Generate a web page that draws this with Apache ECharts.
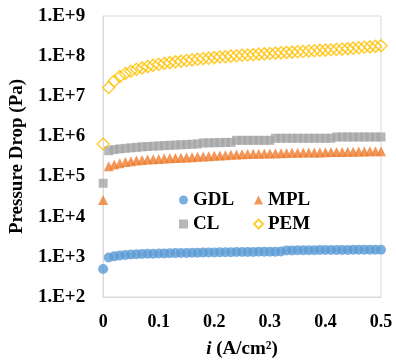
<!DOCTYPE html>
<html>
<head>
<meta charset="utf-8">
<script src="https://cdn.jsdelivr.net/npm/echarts@6/dist/echarts.min.js"></script>
<style>html,body{margin:0;padding:0;background:#fff;}#c{width:396px;height:364px;}</style>
</head>
<body>
<div id="c"></div>
<script>
var seriesNames = ['GDL', 'MPL', 'CL', 'PEM'];
var xTickLabels = ['0', '0.1', '0.2', '0.3', '0.4', '0.5'];
var yTickLabels = ['1.E+2', '1.E+3', '1.E+4', '1.E+5', '1.E+6', '1.E+7', '1.E+8', '1.E+9'];

var currentDensity = [0, 0.01, 0.02, 0.03, 0.04, 0.05, 0.06, 0.07, 0.08, 0.09, 0.10,
  0.11, 0.12, 0.13, 0.14, 0.15, 0.16, 0.17, 0.18, 0.19, 0.20,
  0.21, 0.22, 0.23, 0.24, 0.25, 0.26, 0.27, 0.28, 0.29, 0.30,
  0.31, 0.32, 0.33, 0.34, 0.35, 0.36, 0.37, 0.38, 0.39, 0.40,
  0.41, 0.42, 0.43, 0.44, 0.45, 0.46, 0.47, 0.48, 0.49, 0.50];

var gdl = [500, 960, 1030, 1080, 1110, 1140, 1160, 1180, 1190, 1200, 1210,
  1220, 1230, 1240, 1250, 1250, 1260, 1270, 1280, 1280, 1290,
  1300, 1300, 1310, 1320, 1320, 1330, 1330, 1340, 1340, 1350,
  1350, 1360, 1450, 1450, 1460, 1460, 1470, 1470, 1480, 1480,
  1480, 1490, 1490, 1490, 1500, 1500, 1500, 1510, 1510, 1510];

var mpl = [26000, 180000, 200000, 215000, 230000, 240000, 250000, 260000, 265000, 270000, 275000,
  280000, 285000, 290000, 295000, 300000, 305000, 310000, 315000, 320000, 330000,
  335000, 340000, 350000, 355000, 360000, 365000, 370000, 372000, 375000, 378000,
  380000, 383000, 386000, 390000, 392000, 395000, 398000, 400000, 400000, 405000,
  408000, 410000, 412000, 415000, 418000, 420000, 422000, 425000, 428000, 430000];

var cl = [68000, 440000, 470000, 490000, 505000, 520000, 535000, 550000, 560000, 570000, 580000,
  590000, 600000, 610000, 620000, 630000, 640000, 650000, 690000, 690000, 700000,
  700000, 710000, 710000, 800000, 800000, 800000, 800000, 800000, 800000, 800000,
  900000, 900000, 900000, 900000, 900000, 900000, 900000, 900000, 900000, 900000,
  900000, 970000, 970000, 970000, 970000, 970000, 970000, 970000, 970000, 970000];

var pem = [650000, 1.66e7, 2.4e7, 3.1e7, 3.7e7, 4.2e7, 4.7e7, 5.1e7, 5.5e7, 5.9e7, 6.3e7,
  6.6e7, 6.9e7, 7.2e7, 7.5e7, 7.8e7, 8.1e7, 8.4e7, 8.7e7, 8.9e7, 9.2e7,
  9.5e7, 9.7e7, 1.0e8, 1.02e8, 1.05e8, 1.07e8, 1.09e8, 1.12e8, 1.14e8, 1.16e8,
  1.19e8, 1.21e8, 1.24e8, 1.26e8, 1.29e8, 1.31e8, 1.34e8, 1.36e8, 1.39e8, 1.41e8,
  1.44e8, 1.47e8, 1.5e8, 1.54e8, 1.58e8, 1.62e8, 1.66e8, 1.7e8, 1.75e8, 1.82e8];

function pairs(ys) {
  return currentDensity.map(function (x, i) { return [x, ys[i]]; });
}

var FONT = "'Liberation Serif', 'Times New Roman', serif";
var chart = echarts.init(document.getElementById('c'), null, { renderer: 'canvas' });

var legendText = { fontFamily: FONT, fontWeight: 'bold', fontSize: 19, color: '#000', lineHeight: 20 };

chart.setOption({
  animation: false,
  backgroundColor: '#fff',
  grid: { left: 101, right: 15, top: 16, bottom: 64, show: true, borderColor: '#d9d9d9', borderWidth: 1, backgroundColor: 'transparent' },
  legend: [
    { data: [seriesNames[0], seriesNames[2]], orient: 'vertical', left: 179, top: 190, itemWidth: 9, itemHeight: 9, itemGap: 4, padding: 0, textStyle: legendText, selectedMode: false },
    { data: [seriesNames[1], seriesNames[3]], orient: 'vertical', left: 253, top: 190, itemWidth: 9, itemHeight: 9, itemGap: 4, padding: 0, textStyle: legendText, selectedMode: false }
  ],
  xAxis: {
    type: 'value', min: 0, max: 0.5, interval: 0.1,
    axisLine: { show: true, lineStyle: { color: '#d9d9d9', width: 1 } },
    axisTick: { show: false },
    splitLine: { show: false },
    axisLabel: {
      margin: 16, fontFamily: FONT, fontWeight: 'bold', fontSize: 18, color: '#000',
      formatter: function (v) { return xTickLabels[Math.round(v * 10)]; }
    },
    name: '{i|i} (A/cm²)',
    nameLocation: 'middle', nameGap: 43,
    nameTextStyle: {
      fontFamily: FONT, fontWeight: 'bold', fontSize: 19, color: '#000',
      rich: { i: { fontFamily: FONT, fontWeight: 'bold', fontStyle: 'italic', fontSize: 19, color: '#000' } }
    }
  },
  yAxis: {
    type: 'log', logBase: 10, min: 100, max: 1e9,
    axisLine: { show: true, lineStyle: { color: '#d9d9d9', width: 1 } },
    axisTick: { show: false },
    splitLine: { show: false },
    minorTick: { show: false },
    axisLabel: {
      margin: 18, fontFamily: FONT, fontWeight: 'bold', fontSize: 19, color: '#000',
      formatter: function (v) { return yTickLabels[Math.round(Math.log10(v)) - 2]; }
    },
    name: 'Pressure Drop (Pa)',
    nameLocation: 'middle', nameGap: 73, nameRotate: 90,
    nameTextStyle: { fontFamily: FONT, fontWeight: 'bold', fontSize: 19, color: '#000' }
  },
  series: [
    { name: seriesNames[0], type: 'scatter', data: pairs(gdl), symbol: 'circle', symbolSize: 10, itemStyle: { color: '#5b9bd5' } },
    { name: seriesNames[1], type: 'scatter', data: pairs(mpl), symbol: 'triangle', symbolSize: 10, itemStyle: { color: '#ed7d31' } },
    { name: seriesNames[2], type: 'scatter', data: pairs(cl), symbol: 'rect', symbolSize: 9, itemStyle: { color: '#a5a5a5' } },
    { name: seriesNames[3], type: 'scatter', data: pairs(pem), symbol: 'diamond', symbolSize: 12, itemStyle: { color: 'rgba(255,255,255,0)', borderColor: '#ffc000', borderWidth: 1.5 } }
  ]
});
</script>
</body>
</html>
